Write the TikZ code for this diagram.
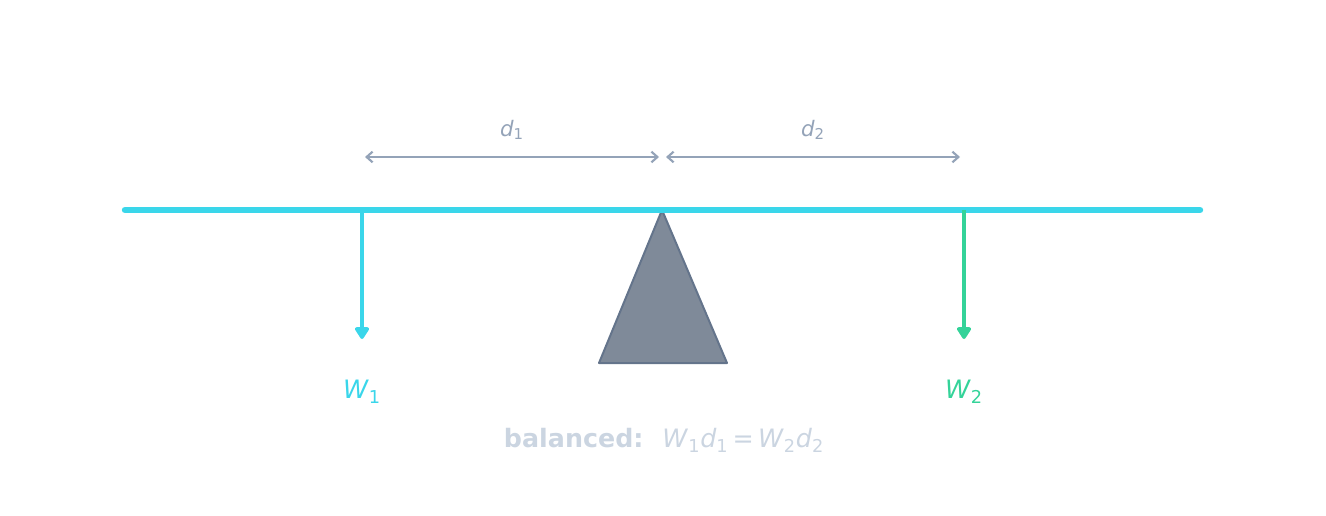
\documentclass[tikz,border=0pt]{standalone}
\usepackage{fontspec}
\setmainfont{DejaVu Sans}
\usetikzlibrary{arrows.meta}
\usetikzlibrary{positioning}
\definecolor{beamcol}{HTML}{3AD6EA}
\definecolor{loadcol}{HTML}{34D399}
\definecolor{pivfill}{HTML}{7F8A99}
\definecolor{pivdraw}{HTML}{64748B}
\definecolor{dimcol}{HTML}{94A3B8}
\definecolor{notecol}{HTML}{CBD5E1}
\newcommand{\qsub}[2]{\textit{#1}\textsubscript{#2}}

\begin{document}
\begin{tikzpicture}[x=0.75pt,y=-0.75pt]
\tikzset{force/.style={line width=3.2pt,-{Triangle[length=10pt,width=12pt,round]}},
  dimline/.style={draw=dimcol,line width=1.6pt,{Straight Barb[length=4.5pt,width=8pt]}-{Straight Barb[length=4.5pt,width=8pt]}}}
\useasboundingbox (0,0) rectangle (1326,516);
% beam and pivot
\coordinate (beamL) at (125,210);
\coordinate (beamR) at (1200,210);
\coordinate (apex) at (662,210);
\coordinate (baseL) at (599,363);
\coordinate (baseR) at (727,363);
\draw[fill=pivfill,draw=pivdraw,line width=1.5pt,line join=round](apex) -- (baseL) -- (baseR) -- cycle;
\draw[draw=beamcol,line width=4.8pt,line cap=round](beamL) -- (beamR);
% loads
\coordinate (p1) at (362,210);
\coordinate (f1) at (362,339);
\coordinate (p2) at (964,210);
\coordinate (f2) at (964,339);
\draw[force,draw=beamcol,fill=beamcol](p1) -- (f1);
\draw[force,draw=loadcol,fill=loadcol](p2) -- (f2);
\node[text=beamcol,font=\fontsize{19}{22}\selectfont](w1) at (362,392){\qsub{W}{1}};
\node[text=loadcol,font=\fontsize{19}{22}\selectfont](w2) at (964,392){\qsub{W}{2}};
% distances
\coordinate (d1s) at (365,157);
\coordinate (d1e) at (659,157);
\coordinate (d2s) at (666,157);
\coordinate (d2e) at (960,157);
\draw[dimline](d1s) -- (d1e);
\draw[dimline](d2s) -- (d2e);
\node[text=dimcol,font=\fontsize{16}{19}\selectfont](d1) at (512,130){\qsub{d}{1}};
\node[text=dimcol,font=\fontsize{16}{19}\selectfont](d2) at (813,130){\qsub{d}{2}};
% note
\node[text=notecol,font=\fontsize{19}{22}\selectfont](note) at (664,440){\textbf{balanced:}\hspace{0.75em}\qsub{W}{1}\qsub{d}{1}\,=\,\qsub{W}{2}\qsub{d}{2}};
\end{tikzpicture}
\end{document}
